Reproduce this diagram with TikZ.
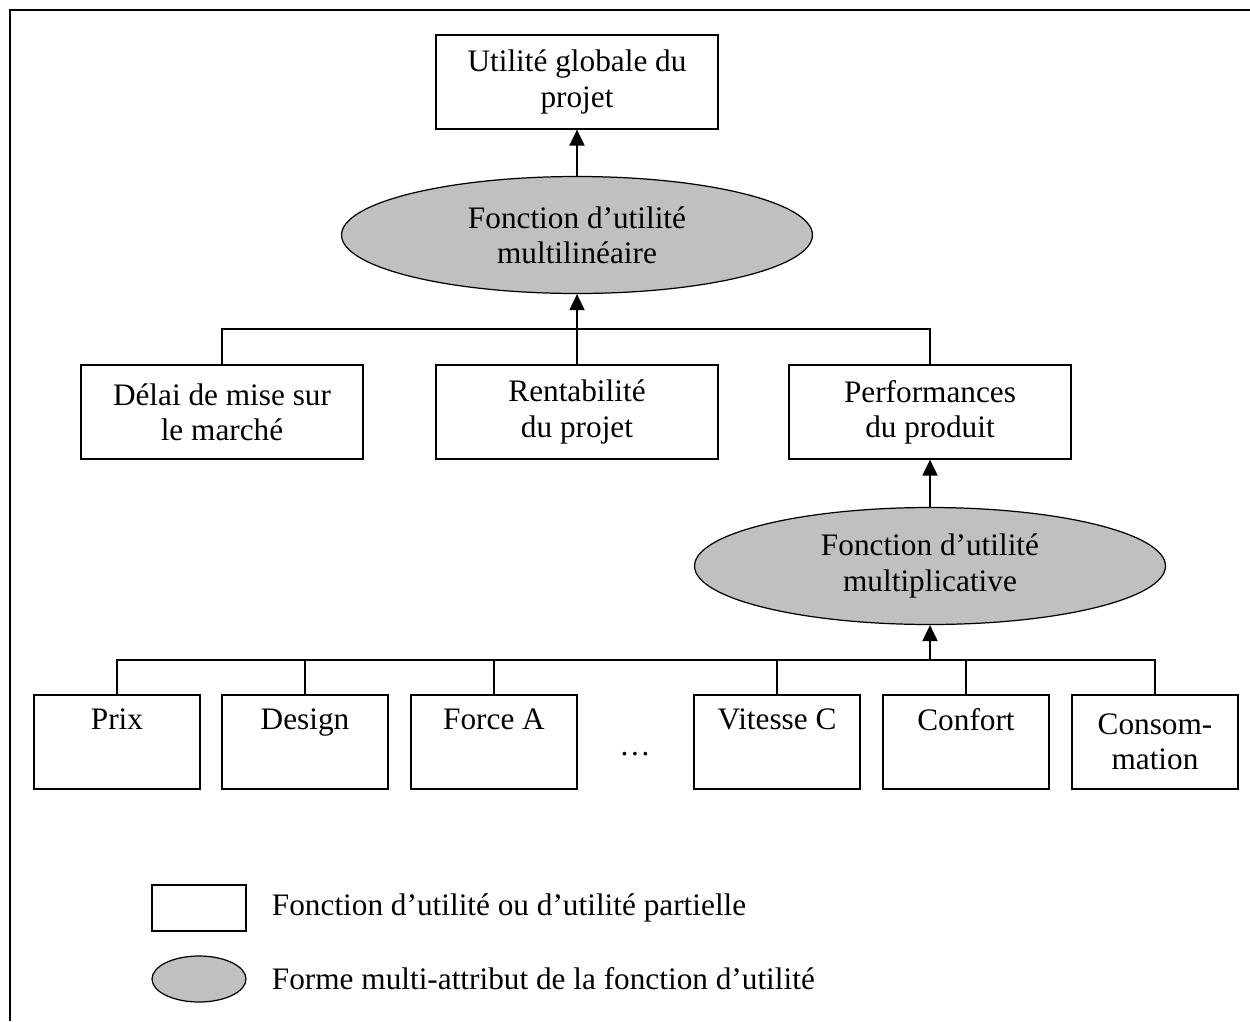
\documentclass[tikz,border=0pt]{standalone}
\usepackage{fontspec}
\setmainfont{Liberation Serif}
\usepackage{xcolor}
\usepackage{tikz}
\usetikzlibrary{shapes.geometric, arrows.meta, positioning}
\definecolor{ellgray}{HTML}{C0C0C0}

\begin{document}
\begin{tikzpicture}[x=0.02cm, y=-0.02cm, font=\fontsize{17.8}{20}\selectfont,
  box/.style={rectangle, draw, line width=0.7pt, minimum width=5.64cm, minimum height=1.88cm, align=center, inner sep=0pt},
  leaf/.style={box, minimum width=3.32cm},
  form/.style={ellipse, draw, line width=0.7pt, fill=ellgray, minimum width=9.42cm, minimum height=2.34cm, align=center, inner sep=0pt},
  link/.style={line width=0.8pt},
  arrow/.style={-{Triangle[width=0.3cm, length=0.32cm]}, line width=1.1pt}]
\useasboundingbox (0,0) rectangle (1250,1021);
\draw[line width=1pt] (10,1021) -- (10,10) -- (1250,10);
% top of the tree
\node[box] (glob) at (577,82) {Utilité globale du\\projet};
\node[form] (multilin) at (577,235) {Fonction d’utilité\\multilinéaire};
\node[box] (delai) at (222,412) {Délai de mise sur\\le marché};
\node[box] (renta) at (577,412) {Rentabilité\\du projet};
\node[box] (perf) at (930,412) {Performances\\du produit};
\node[form] (multipl) at (930,566) {Fonction d’utilité\\multiplicative};
\draw[arrow] (multilin) -- (glob);
\draw[arrow] (renta) -- (multilin);
\draw[link] (delai.north) |- (577,329) -| (perf.north);
\draw[arrow] (perf |- multipl.north) -- (perf);
% attributes
\node[leaf] (prix) at (117,742) {Prix\\\strut};
\node[leaf] (design) at (305,742) {Design\\\strut};
\node[leaf] (force) at (494,742) {Force A\\\strut};
\node (dots) at (635,754) {\dots};
\node[leaf] (vitesse) at (777,742) {Vitesse C\\\strut};
\node[leaf] (confort) at (966,742) {Confort\\\strut};
\node[leaf] (conso) at (1155,742) {Consom-\\mation};
\coordinate (bus) at (930,660);
\draw[link] (prix.north) |- (bus) -| (conso.north);
\foreach \n in {design, force, vitesse, confort}
  \draw[link] (\n.north) -- (\n.north |- bus);
\draw[arrow] (bus) -- (multipl);
% legend
\node[rectangle, draw, line width=0.7pt, minimum width=1.88cm, minimum height=0.92cm] (legbox) at (199,908) {};
\node[right=0.5cm of legbox, inner sep=0pt] (legboxtxt) {Fonction d’utilité ou d’utilité partielle};
\node[ellipse, draw, line width=0.7pt, fill=ellgray, minimum width=1.88cm, minimum height=0.92cm] (legell) at (199,979) {};
\node[right=0.5cm of legell, inner sep=0pt] (legelltxt) {Forme multi-attribut de la fonction d’utilité};
\end{tikzpicture}
\end{document}
